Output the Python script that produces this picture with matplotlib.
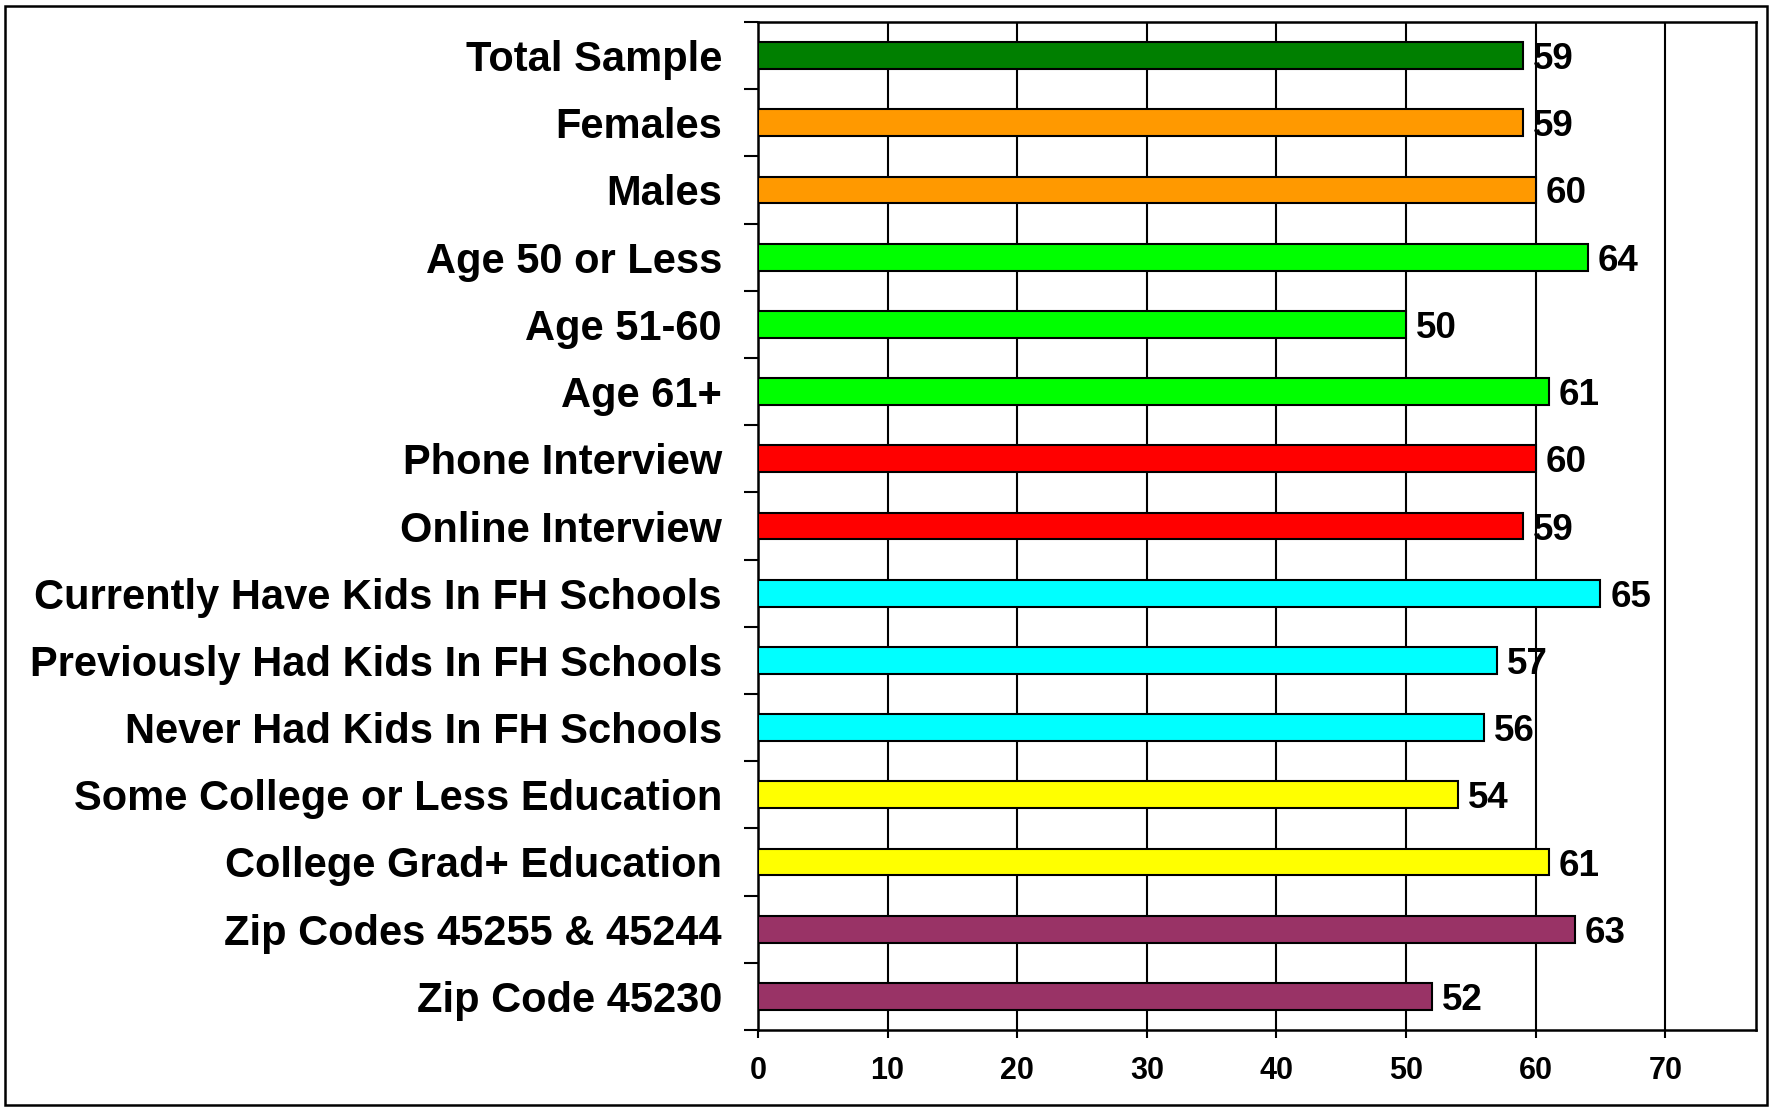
import matplotlib
matplotlib.use("Agg")
import matplotlib.pyplot as plt
import numpy as np
from matplotlib.patches import Rectangle

categories = [
    "Total Sample", "Females", "Males", "Age 50 or Less", "Age 51-60", "Age 61+",
    "Phone Interview", "Online Interview", "Currently Have Kids In FH Schools",
    "Previously Had Kids In FH Schools", "Never Had Kids In FH Schools",
    "Some College or Less Education", "College Grad+ Education",
    "Zip Codes 45255 & 45244", "Zip Code 45230",
]
values = [59, 59, 60, 64, 50, 61, 60, 59, 65, 57, 56, 54, 61, 63, 52]
colors = ["#007F00", "#FF9900", "#FF9900", "#00FF00", "#00FF00", "#00FF00",
          "#FF0000", "#FF0000", "#00FFFF", "#00FFFF", "#00FFFF",
          "#FFFF00", "#FFFF00", "#993366", "#993366"]
xticks = [0, 10, 20, 30, 40, 50, 60, 70]

plt.rcParams['font.family'] = ['Liberation Sans', 'DejaVu Sans']
plt.rcParams['font.weight'] = 'bold'

W, H = 1771, 1107
fig = plt.figure(figsize=(W / 100, H / 100), dpi=100)
ax = fig.add_axes([758 / W, 1 - 1030 / H, (1756 - 758) / W, (1030 - 22) / H])

y = np.arange(len(categories))
ax.barh(y, values, height=0.4, color=colors, edgecolor="black", linewidth=1.5, zorder=3)

for yi, v in zip(y, values):
    ax.annotate(str(v), xy=(v, yi), xytext=(7, 0), textcoords="offset points",
                ha="left", va="center_baseline", fontsize=26.5, fontweight="bold", zorder=4)

ax.set_xlim(0, 77)
ax.set_ylim(len(categories) - 0.5, -0.5)
ax.set_xticks(xticks)
ax.set_xticklabels([str(t) for t in xticks], fontsize=22, fontweight="bold")
ax.set_yticks(y)
ax.set_yticklabels(categories, fontsize=30, fontweight="bold")
ax.set_yticks(np.arange(-0.5, len(categories), 1.0), minor=True)

ax.tick_params(axis="y", which="major", length=0, pad=26)
ax.tick_params(axis="y", which="minor", length=10, width=1.5, direction="out")
ax.tick_params(axis="x", which="major", length=6, width=1.5, direction="out", pad=13)

for xv in xticks[1:]:
    ax.axvline(xv, color="black", linewidth=1.5, zorder=1)

for s in ax.spines.values():
    s.set_linewidth(1.8)
    s.set_color("black")

fig.patches.append(Rectangle((5 / W, 1 - 1105 / H), (1767 - 5) / W, (1105 - 6) / H,
                             transform=fig.transFigure, fill=False,
                             edgecolor="black", linewidth=1.8))

fig.savefig("out.png", dpi=100)
